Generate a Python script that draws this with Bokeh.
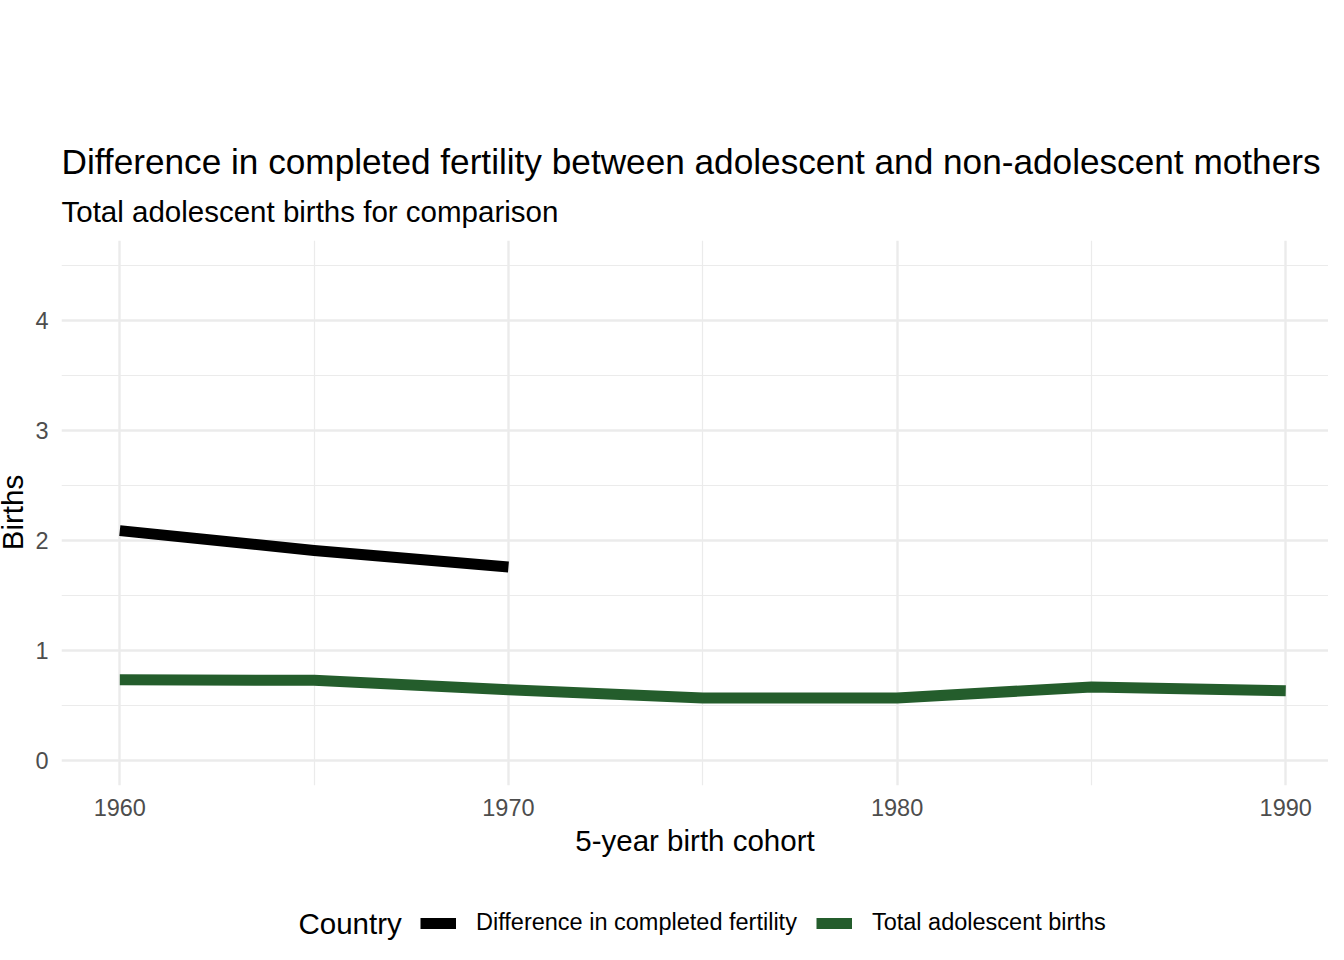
import math
from bokeh.plotting import figure
from bokeh.layouts import column, row
from bokeh.models import Range1d, FixedTicker, Legend, LegendItem, Title, Label
from bokeh.embed import file_html
from bokeh.resources import INLINE

# Data
years_diff = [1960, 1965, 1970]
diff_vals = [2.09, 1.91, 1.76]
years_total = [1960, 1965, 1970, 1975, 1980, 1985, 1990]
total_vals = [0.735, 0.73, 0.645, 0.57, 0.57, 0.67, 0.635]
legend_title = "Country"
series_names = ["Difference in completed fertility", "Total adolescent births"]
series_colors = ["#000000", "#245D2C"]
x_major = [1960, 1970, 1980, 1990]
x_minor = [1965, 1975, 1985]
y_major = [0, 1, 2, 3, 4]
y_minor = [0.5, 1.5, 2.5, 3.5, 4.5]

FONT = "Liberation Sans"
GRID = "#EBEBEB"
TICK_FS = "23.5px"
MID_FS = "29.5px"

TOTAL_W = 1328
LEFT_W = 32          # strip holding the y-axis title
MAIN_H = 860
LEG_H = 84
FRAME_BOTTOM = 785

# ---- y-axis title strip ----
fl = figure(width=LEFT_W, height=MAIN_H, output_backend="svg", toolbar_location=None,
            x_range=Range1d(0, 1), y_range=Range1d(0, 1), x_axis_type=None, y_axis_type=None,
            min_border=0, outline_line_color=None)
fl.add_layout(Label(x=12, y=FRAME_BOTTOM - 512, x_units="screen", y_units="screen",
                    text="Births", angle=math.pi / 2, text_align="center",
                    text_baseline="alphabetic", text_font=FONT,
                    text_font_size=MID_FS, text_color="#000000"))

# ---- main plot ----
p = figure(width=TOTAL_W - LEFT_W, height=MAIN_H, output_backend="svg", toolbar_location=None,
           x_range=Range1d(1958.5, 1991.1), y_range=Range1d(-0.225, 4.725),
           min_border_left=61 - LEFT_W, min_border_right=0, min_border_top=240,
           min_border_bottom=MAIN_H - FRAME_BOTTOM, outline_line_color=None)

p.add_layout(Title(text="Total adolescent births for comparison", text_font=FONT,
                   text_font_size=MID_FS, text_font_style="normal", text_color="#000000",
                   align="left", standoff=25), "above")
p.add_layout(Title(text="Difference in completed fertility between adolescent and non-adolescent mothers",
                   text_font=FONT, text_font_size="35.2px", text_font_style="normal",
                   text_color="#000000", align="left", standoff=0), "above")

p.xgrid.ticker = FixedTicker(ticks=x_major, minor_ticks=x_minor)
p.ygrid.ticker = FixedTicker(ticks=y_major, minor_ticks=y_minor)
for g in (p.xgrid, p.ygrid):
    g.grid_line_color = GRID
    g.grid_line_width = 2.4
    g.minor_grid_line_color = GRID
    g.minor_grid_line_width = 1.2

p.xaxis.ticker = FixedTicker(ticks=x_major, minor_ticks=x_minor)
p.yaxis.ticker = FixedTicker(ticks=y_major, minor_ticks=y_minor)
for ax in (p.xaxis, p.yaxis):
    ax.axis_line_color = None
    ax.major_tick_line_color = None
    ax.minor_tick_line_color = None
    ax.major_label_text_font = FONT
    ax.major_label_text_font_size = TICK_FS
    ax.major_label_text_color = "#4D4D4D"
    ax.axis_label_text_font = FONT
    ax.axis_label_text_font_size = MID_FS
    ax.axis_label_text_font_style = "normal"
    ax.axis_label_text_color = "#000000"

p.xaxis.axis_label = "5-year birth cohort"
p.xaxis.major_label_standoff = 7
p.xaxis.axis_label_standoff = 5
p.yaxis.major_label_standoff = 7

p.line(years_diff, diff_vals, line_color=series_colors[0], line_width=11, line_join="round")
p.line(years_total, total_vals, line_color=series_colors[1], line_width=11, line_join="round")

# ---- legend strip ----
fg = figure(width=TOTAL_W, height=LEG_H, output_backend="svg", toolbar_location=None,
            x_range=Range1d(0, 1), y_range=Range1d(0, 1), x_axis_type=None, y_axis_type=None,
            min_border=0, outline_line_color=None)
# legend keys: same series, drawn outside this strip's visible ranges
k1 = fg.line(years_diff, diff_vals, line_color=series_colors[0], line_width=11)
k2 = fg.line(years_total, total_vals, line_color=series_colors[1], line_width=11)
legend = Legend(items=[LegendItem(label=series_names[0], renderers=[k1]),
                       LegendItem(label=series_names[1], renderers=[k2])],
                orientation="horizontal", location=(420, 8))
legend.label_text_font = FONT
legend.label_text_font_size = TICK_FS
legend.label_text_color = "#000000"
legend.glyph_width = 36
legend.glyph_height = 26
legend.label_height = 26
legend.label_standoff = 20
legend.spacing = 19
legend.padding = 0
legend.margin = 0
legend.border_line_color = None
legend.background_fill_alpha = 0
fg.add_layout(legend, "center")
fg.add_layout(Label(x=298, y=LEG_H - (923 - MAIN_H), x_units="screen", y_units="screen",
                    text=legend_title, text_align="left", text_baseline="middle",
                    text_font=FONT, text_font_size=MID_FS, text_color="#000000"))

layout = column(row(fl, p, spacing=0), fg, spacing=0)
open("out.html", "w").write(file_html(layout, INLINE))
